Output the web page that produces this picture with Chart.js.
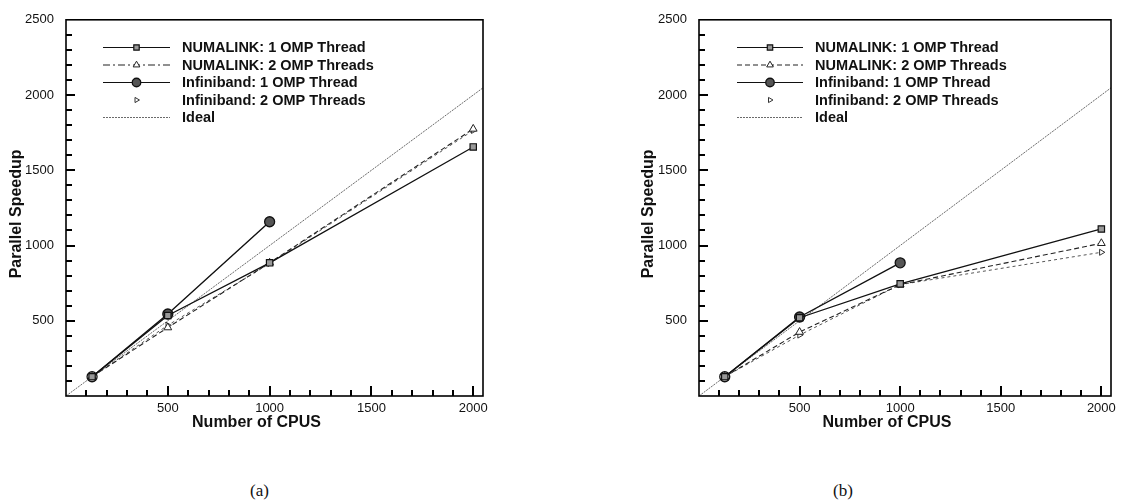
<!DOCTYPE html>
<html><head><meta charset="utf-8">
<script src="https://cdn.jsdelivr.net/npm/chart.js@4/dist/chart.umd.min.js"></script>
<style>
body{margin:0;background:#fff;width:1121px;height:504px;overflow:hidden;position:relative}
#wa{position:absolute;left:0;top:0}
#wb{position:absolute;left:580px;top:0}
.cap{position:absolute;top:481px;font-family:'Liberation Serif','DejaVu Serif',serif;font-size:17px;color:#111}
</style></head><body>
<canvas id="wa" width="540" height="440"></canvas>
<canvas id="wb" width="560" height="440"></canvas>
<div class="cap" style="left:250px">(a)</div>
<div class="cap" style="left:833px">(b)</div>
<script>
// ---- data ----
const cpus = [128, 500, 1000, 2000];
const idealX = [0, 2048];
const idealY = [0, 2048];
const seriesNames = ['NUMALINK: 1 OMP Thread','NUMALINK: 2 OMP Threads','Infiniband: 1 OMP Thread','Infiniband: 2 OMP Threads','Ideal'];
// chart (a)
const aNuma1 = [128, 535, 885, 1655];
const aNuma2 = [128, 455, 885, 1775];
const aInfi1 = [128, 545, 1158];
const aInfi2 = [128, 470, 880, 1765];
// chart (b)
const bNuma1 = [128, 520, 745, 1110];
const bNuma2 = [128, 425, 740, 1015];
const bInfi1 = [128, 525, 885];
const bInfi2 = [128, 405, 740, 955];
const xTickLabels = [500, 1000, 1500, 2000];
const yTickLabels = [500, 1000, 1500, 2000, 2500];
const minorStep = 100;

Chart.defaults.font.family = "'Liberation Sans', Arial, Helvetica, sans-serif";
Chart.defaults.color = '#111';

function pts(xs, ys){ return ys.map((y,i)=>({x:xs[i], y:y})); }

function makeDatasets(n1, n2, i1, i2, numa2LegendDash){
  return [
    {label:seriesNames[0], data:pts(cpus,n1), borderColor:'#111', borderWidth:1.3,
     pointStyle:'rectRot', pointRadius:4.5, pointRotation:45, pointBackgroundColor:'#999', pointBorderColor:'#111', pointBorderWidth:1.2},
    {label:seriesNames[1], data:pts(cpus,n2), borderColor:'#222', borderWidth:1.1, borderDash:[5,3],
     legendDash:numa2LegendDash, pointStyle:'triangle', pointRadius:4.5, pointBackgroundColor:'#fff', pointBorderColor:'#222', pointBorderWidth:1},
    {label:seriesNames[2], data:pts(cpus,i1), borderColor:'#111', borderWidth:1.4,
     pointStyle:'circle', pointRadius:5, pointBackgroundColor:['#fff','#555','#555'], pointBorderColor:'#111', pointBorderWidth:1.3},
    {label:seriesNames[3], data:pts(cpus,i2), borderColor:'#444', borderWidth:0.9, borderDash:[3,3], legendNoLine:true,
     pointStyle:'triangle', pointRotation:90, pointRadius:3.5, pointBackgroundColor:'#fff', pointBorderColor:'#333', pointBorderWidth:1},
    {label:seriesNames[4], data:pts(idealX,idealY), borderColor:'#444', borderWidth:0.8, borderDash:[2,1],
     pointRadius:0, legendMarker:false}
  ];
}

const framePlugin = {
  id:'frame',
  afterDraw(chart, args, o){
    const ctx = chart.ctx, ca = chart.chartArea, xs = chart.scales.x, ys = chart.scales.y;
    ctx.save();
    ctx.setLineDash([]);
    ctx.strokeStyle = '#000';
    ctx.fillStyle = '#000';
    ctx.lineWidth = 1.6;
    ctx.strokeRect(ca.left, ca.top, ca.right-ca.left, ca.bottom-ca.top);
    for(let k=1; k<25; k++){
      const y = Math.round(ys.getPixelForValue(k*minorStep));
      const major = (k%5===0);
      ctx.fillRect(Math.round(ca.left), y-1, major ? 9 : 6, 2);
    }
    for(let k=1; k<=20; k++){
      const x = Math.round(xs.getPixelForValue(k*minorStep));
      const major = (k%5===0);
      const len = major ? 10 : 6;
      ctx.fillRect(x-1, Math.round(ca.bottom)-len, 2, len);
    }
    // axis titles
    ctx.fillStyle = '#111';
    ctx.font = "bold 16px 'Liberation Sans', Arial, sans-serif";
    ctx.textAlign = 'center'; ctx.textBaseline = 'middle';
    ctx.fillText('Number of CPUS', (ca.left+ca.right)/2 - 18, ca.bottom + 27);
    ctx.save();
    ctx.translate(o.yTitleX, (ca.top+ca.bottom)/2 + 6);
    ctx.rotate(-Math.PI/2);
    ctx.fillText('Parallel Speedup', 0, 0);
    ctx.restore();
    // legend
    const L = o.legend;
    ctx.font = "bold 14.5px 'Liberation Sans', Arial, sans-serif";
    ctx.textAlign = 'left';
    chart.data.datasets.forEach((ds, i) => {
      const y = L.y0 + i*L.dy;
      if(!ds.legendNoLine){
        ctx.save();
        ctx.strokeStyle = ds.borderColor; ctx.lineWidth = Math.min(ds.borderWidth,1.2);
        ctx.setLineDash(ds.legendDash || ds.borderDash || []);
        ctx.beginPath(); ctx.moveTo(L.x0, y+0.5); ctx.lineTo(L.x1, y+0.5); ctx.stroke();
        ctx.restore();
      }
      if(ds.legendMarker !== false){
        ctx.save();
        ctx.fillStyle = Array.isArray(ds.pointBackgroundColor) ? ds.pointBackgroundColor[1] : ds.pointBackgroundColor;
        ctx.strokeStyle = ds.pointBorderColor; ctx.lineWidth = ds.pointBorderWidth;
        Chart.helpers.drawPoint(ctx, {pointStyle:ds.pointStyle, radius:ds.pointRadius*0.85, rotation:ds.pointRotation||0, borderWidth:ds.pointBorderWidth}, (L.x0+L.x1)/2, y+0.5);
        ctx.restore();
      }
      ctx.fillStyle = '#111';
      ctx.fillText(ds.label, L.tx, y+1);
    });
    ctx.restore();
  }
};

function makeChart(id, datasets, yAxisW, padRight, yTitleX, legend){
  return new Chart(document.getElementById(id), {
    type:'scatter',
    data:{datasets},
    options:{
      responsive:false, animation:false, devicePixelRatio:1,
      showLine:true,
      layout:{padding:{left:0, right:padRight, top:15, bottom:0}},
      plugins:{legend:{display:false}, tooltip:{enabled:false}, frame:{yTitleX, legend}},
      elements:{line:{tension:0}},
      scales:{
        x:{type:'linear', min:0, max:2048,
           afterBuildTicks(s){ s.ticks = xTickLabels.map(v=>({value:v})); },
           afterFit(s){ s.height = 44; },
           grid:{display:false, drawTicks:false}, border:{display:false},
           ticks:{padding:5, font:{size:13}, color:'#111', maxRotation:0, autoSkip:false, callback:v=>String(v)}},
        y:{type:'linear', min:0, max:2500,
           afterBuildTicks(s){ s.ticks = yTickLabels.map(v=>({value:v})); },
           afterFit(s){ s.width = yAxisW; },
           grid:{display:false, drawTicks:false}, border:{display:false},
           ticks:{padding:12, font:{size:13}, color:'#111', autoSkip:false, callback:v=>String(v)}}
      }
    },
    plugins:[framePlugin]
  });
}

makeChart('wa', makeDatasets(aNuma1,aNuma2,aInfi1,aInfi2,[7,3,2,3]), 66, 57, 17,
  {x0:103, x1:170, tx:182, y0:47, dy:17.5});
makeChart('wb', makeDatasets(bNuma1,bNuma2,bInfi1,bInfi2,null), 119, 29, 69,
  {x0:157, x1:223, tx:235, y0:47, dy:17.5});
</script>
</body></html>
